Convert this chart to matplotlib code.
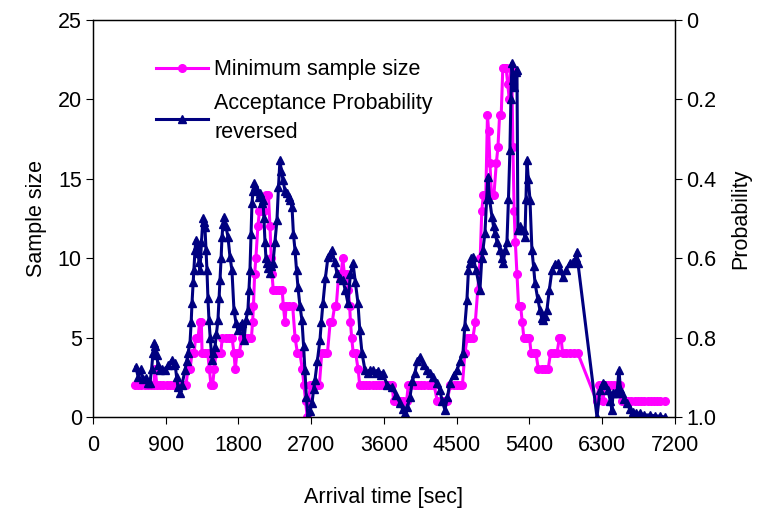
import numpy as np
import matplotlib
matplotlib.use("Agg")
import matplotlib.pyplot as plt

plt.rcParams['font.family'] = ['Liberation Sans', 'DejaVu Sans']

# minimum sample size (left axis), step-like
size_t = [520, 560, 600, 640, 680, 720, 750, 770, 790, 830, 870, 910, 950, 990,
          1030, 1070, 1110, 1150, 1175, 1200, 1225, 1250, 1270, 1300, 1320, 1340,
          1350, 1385, 1420, 1440, 1460, 1480, 1500, 1520, 1550, 1580, 1600, 1640,
          1680, 1720, 1745, 1760, 1780, 1810, 1840, 1880, 1920, 1960, 1975, 1985,
          2000, 2015, 2040, 2060, 2090, 2120, 2140, 2170, 2190, 2205, 2215, 2230,
          2270, 2300, 2340, 2355, 2375, 2390, 2430, 2470, 2500, 2530, 2560, 2590,
          2610, 2630, 2650, 2665, 2690, 2720, 2760, 2800, 2830, 2860, 2900, 2935,
          2960, 2990, 3010, 3040, 3070, 3090, 3110, 3140, 3160, 3175, 3185, 3200,
          3220, 3250, 3280, 3300, 3340, 3380, 3420, 3460, 3500, 3540, 3580, 3620,
          3660, 3700, 3720, 3760, 3800, 3840, 3880, 3900, 3940, 3980, 4020, 4060,
          4100, 4140, 4180, 4220, 4260, 4300, 4340, 4380, 4420, 4460, 4500, 4540,
          4570, 4600, 4630, 4660, 4700, 4730, 4760, 4790, 4810, 4830, 4860, 4880,
          4895, 4910, 4930, 4960, 4990, 5010, 5030, 5050, 5070, 5090, 5110, 5130,
          5150, 5165, 5180, 5195, 5210, 5225, 5245, 5265, 5290, 5310, 5330, 5360,
          5400, 5420, 5450, 5480, 5510, 5550, 5590, 5630, 5660, 5700, 5740, 5770,
          5790, 5810, 5850, 5900, 5950, 5999, 6230, 6260, 6290, 6310, 6330, 6370,
          6410, 6450, 6490, 6520, 6540, 6580, 6620, 6660, 6700, 6740, 6780, 6820,
          6860, 6900, 6940, 6980, 7020, 7076]
size_v = [2, 2, 2, 2, 2, 2, 2, 3, 2, 2, 2, 2, 2, 2,
          2, 2, 2, 2, 3, 3, 4, 4, 5, 5, 6, 6,
          4, 4, 4, 3, 2, 2, 3, 4, 4, 4, 5, 5,
          5, 5, 4, 3, 4, 4, 5, 5, 5, 5, 6, 7,
          9, 10, 12, 13, 13, 13, 14, 14, 12, 10, 9, 8,
          8, 8, 8, 7, 6, 7, 7, 7, 5, 4, 4, 3,
          2, 1, 0, 1, 2, 2, 2, 2, 4, 4, 4, 6,
          6, 7, 7, 9, 9, 10, 9, 9, 8, 7, 6, 5,
          4, 4, 3, 2, 2, 2, 2, 2, 2, 2, 2, 2,
          2, 2, 1, 1, 1, 1, 1, 2, 2, 2, 2, 2,
          2, 2, 2, 2, 1, 1, 1, 1, 2, 2, 2, 2,
          2, 4, 5, 5, 5, 6, 8, 10, 13, 14, 14, 19,
          18, 16, 14, 14, 16, 17, 19, 19, 22, 22, 22, 21,
          20, 22, 22, 17, 13, 11, 9, 7, 7, 6, 5, 5,
          5, 4, 4, 4, 3, 3, 3, 3, 4, 4, 4, 5,
          5, 4, 4, 4, 4, 4, 1, 2, 2, 1, 2, 2,
          2, 2, 2, 2, 1, 1, 1, 1, 1, 1, 1, 1,
          1, 1, 1, 1, 1, 1]

# acceptance probability (right axis, reversed)
prob_t = [530, 560, 590, 620, 650, 680, 705, 725, 742, 755, 770, 790, 804, 829,
          860, 891, 930, 977, 1000, 1014, 1035, 1051, 1076, 1100, 1138, 1160, 1175,
          1200, 1215, 1225, 1240, 1249, 1262, 1274, 1287, 1299, 1312, 1324, 1342,
          1361, 1373, 1385, 1398, 1410, 1422, 1435, 1450, 1472, 1490, 1509, 1528,
          1546, 1560, 1571, 1585, 1596, 1608, 1620, 1645, 1670, 1695, 1719, 1744,
          1769, 1794, 1820, 1843, 1868, 1893, 1917, 1930, 1942, 1955, 1967, 1980,
          1992, 2010, 2029, 2050, 2066, 2085, 2103, 2115, 2128, 2140, 2152, 2170,
          2189, 2208, 2227, 2250, 2276, 2295, 2313, 2330, 2350, 2375, 2400, 2420,
          2437, 2462, 2480, 2499, 2518, 2536, 2560, 2585, 2605, 2622, 2640, 2660,
          2685, 2709, 2730, 2746, 2775, 2808, 2825, 2845, 2875, 2907, 2930, 2956,
          2990, 3018, 3055, 3093, 3120, 3154, 3185, 3216, 3245, 3278, 3300, 3328,
          3365, 3400, 3430, 3464, 3500, 3530, 3560, 3587, 3640, 3699, 3750, 3798,
          3830, 3859, 3890, 3921, 3950, 3983, 4010, 4045, 4090, 4132, 4170, 4206,
          4250, 4292, 4320, 4354, 4385, 4416, 4460, 4503, 4540, 4577, 4600, 4626,
          4645, 4664, 4680, 4701, 4740, 4787, 4810, 4824, 4849, 4870, 4886, 4905,
          4936, 4955, 4973, 5000, 5035, 5055, 5072, 5100, 5121, 5140, 5158, 5170,
          5183, 5196, 5210, 5230, 5245, 5257, 5280, 5307, 5330, 5344, 5357, 5369,
          5385, 5406, 5430, 5450, 5468, 5500, 5529, 5550, 5567, 5590, 5616, 5645,
          5678, 5715, 5752, 5780, 5814, 5850, 5900, 5940, 5970, 5987, 5999, 6235,
          6272, 6309, 6340, 6371, 6400, 6420, 6433, 6460, 6482, 6507, 6525, 6544,
          6575, 6606, 6640, 6680, 6720, 6766, 6820, 6890, 6950, 7010, 7076]
prob_v = [0.874, 0.900, 0.880, 0.905, 0.902, 0.915, 0.914, 0.880, 0.840, 0.814,
          0.820, 0.845, 0.870, 0.882, 0.878, 0.882, 0.870, 0.856, 0.870, 0.864,
          0.900, 0.924, 0.940, 0.920, 0.882, 0.860, 0.839, 0.814, 0.760, 0.713,
          0.660, 0.630, 0.580, 0.554, 0.570, 0.587, 0.610, 0.630, 0.560, 0.499,
          0.510, 0.521, 0.580, 0.630, 0.700, 0.756, 0.800, 0.856, 0.840, 0.824,
          0.790, 0.756, 0.700, 0.655, 0.600, 0.547, 0.515, 0.496, 0.520, 0.547,
          0.597, 0.630, 0.730, 0.763, 0.781, 0.770, 0.763, 0.806, 0.756, 0.730,
          0.680, 0.630, 0.540, 0.461, 0.430, 0.411, 0.420, 0.428, 0.445, 0.436,
          0.460, 0.453, 0.500, 0.560, 0.600, 0.612, 0.625, 0.637, 0.620, 0.612,
          0.560, 0.504, 0.420, 0.353, 0.380, 0.403, 0.430, 0.436, 0.445, 0.453,
          0.471, 0.540, 0.579, 0.630, 0.673, 0.720, 0.756, 0.820, 0.882, 0.950,
          1.000, 0.985, 0.965, 0.930, 0.907, 0.860, 0.806, 0.760, 0.713, 0.650,
          0.597, 0.590, 0.579, 0.610, 0.637, 0.650, 0.655, 0.680, 0.713, 0.640,
          0.612, 0.660, 0.713, 0.780, 0.839, 0.882, 0.890, 0.882, 0.882, 0.890,
          0.885, 0.895, 0.889, 0.920, 0.924, 0.945, 0.965, 0.980, 0.990, 0.975,
          0.950, 0.910, 0.889, 0.860, 0.849, 0.870, 0.882, 0.890, 0.899, 0.915,
          0.932, 0.960, 0.982, 0.950, 0.914, 0.895, 0.882, 0.860, 0.839, 0.770,
          0.705, 0.630, 0.612, 0.600, 0.597, 0.630, 0.680, 0.600, 0.579, 0.537,
          0.450, 0.395, 0.450, 0.496, 0.520, 0.537, 0.560, 0.579, 0.600, 0.612,
          0.580, 0.560, 0.450, 0.327, 0.200, 0.108, 0.150, 0.170, 0.130, 0.126,
          0.529, 0.520, 0.529, 0.530, 0.547, 0.450, 0.353, 0.400, 0.453, 0.579,
          0.620, 0.662, 0.700, 0.730, 0.750, 0.756, 0.745, 0.730, 0.680, 0.630,
          0.615, 0.612, 0.630, 0.647, 0.630, 0.612, 0.610, 0.600, 0.585, 0.612,
          1.000, 0.932, 0.914, 0.920, 0.932, 0.960, 0.982, 0.940, 0.940, 0.940,
          0.882, 0.930, 0.940, 0.955, 0.965, 0.980, 0.987, 0.990, 0.990, 0.995,
          0.995, 0.997, 0.998, 1.000]

x_ticks = [0, 900, 1800, 2700, 3600, 4500, 5400, 6300, 7200]
left_ticks = [0, 5, 10, 15, 20, 25]
right_ticks = [0, 0.2, 0.4, 0.6, 0.8, 1.0]
right_labels = ["0", "0.2", "0.4", "0.6", "0.8", "1.0"]

fs = 15.5

fig = plt.figure(figsize=(7.64, 5.15), dpi=100)
ax = fig.add_axes([0.1217, 0.1903, 0.7618, 0.7709])
ax2 = ax.twinx()

l1, = ax.plot(size_t, size_v, color='#FF00FF', lw=2.2, marker='o', ms=5.5,
              label='Minimum sample size')
l2, = ax2.plot(prob_t, prob_v, color='#000080', lw=2.2, marker='^', ms=6,
               label='Acceptance Probability\nreversed')

ax.set_xlim(0, 7200)
ax.set_ylim(0, 25)
ax2.set_ylim(1.0, 0)
ax.set_xticks(x_ticks)
ax.set_yticks(left_ticks)
ax2.set_yticks(right_ticks)
ax2.set_yticklabels(right_labels)

for a in (ax, ax2):
    a.tick_params(direction='out', length=5, width=0.8, labelsize=fs, pad=3)
    for s in a.spines.values():
        s.set_linewidth(0.9)
ax.tick_params(axis='x', pad=8)

ax.set_xlabel('Arrival time [sec]', fontsize=fs, labelpad=22)
ax.set_ylabel('Sample size', fontsize=fs, labelpad=8)
ax2.set_ylabel('Probability', fontsize=fs, labelpad=10)

leg = ax2.legend(handles=[l1, l2], loc='upper left', bbox_to_anchor=(0.075, 0.95),
                 frameon=False, fontsize=fs, handlelength=2.4, handletextpad=0.3,
                 labelspacing=0.6)
for txt in leg.get_texts():
    txt.set_linespacing(1.5)

fig.savefig('out.png', dpi=100)
